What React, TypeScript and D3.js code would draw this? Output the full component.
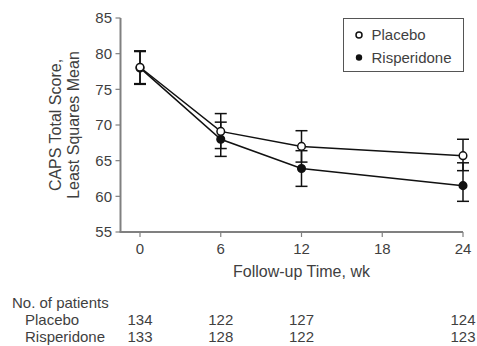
import React, { useEffect } from "react";
import * as d3 from "d3";

const weeks = [0, 6, 12, 24];
const xTicks = [0, 6, 12, 18, 24];
const yTicks = [55, 60, 65, 70, 75, 80, 85];

const placeboMean = [78.1, 69.1, 67.0, 65.7];
const placeboUpper = [80.4, 71.6, 69.2, 68.0];
const placeboLower = [75.8, 66.7, 64.8, 63.6];

const risperidoneMean = [78.0, 68.0, 63.9, 61.5];
const risperidoneUpper = [80.3, 70.4, 66.4, 64.7];
const risperidoneLower = [75.7, 65.6, 61.4, 59.3];

const placeboN = [134, 122, 127, 124];
const risperidoneN = [133, 128, 122, 123];

const seriesNames = ["Placebo", "Risperidone"];

const W = 477;
const H = 346;
const FONT = "'Liberation Sans', Arial, sans-serif";
const TXT = "#3f3f3f";
const AXIS = "#808080";

export default function App() {
  useEffect(() => {
    document.body.style.margin = "0";
  }, []);

  const x = d3.scaleLinear().domain([0, 24]).range([140, 463]);
  const y = d3.scaleLinear().domain([55, 85]).range([232, 18]);
  const axisX = 120.5;
  const axisY = 232;

  const line = d3
    .line<number>()
    .x((_, i) => x(weeks[i]))
    .y((d) => y(d));

  const series = [
    { name: seriesNames[0], mean: placeboMean, up: placeboUpper, lo: placeboLower, fill: "#fff" },
    { name: seriesNames[1], mean: risperidoneMean, up: risperidoneUpper, lo: risperidoneLower, fill: "#111" },
  ];
  const cap = 6;

  return (
    <svg width={W} height={H} style={{ display: "block", fontFamily: FONT }}>
      <rect width={W} height={H} fill="#fff" />
      {/* y axis */}
      <line x1={axisX} x2={axisX} y1={y(85)} y2={axisY} stroke={AXIS} strokeWidth={2} />
      {yTicks.map((t) => (
        <g key={t}>
          <line x1={axisX - 5} x2={axisX} y1={y(t)} y2={y(t)} stroke={AXIS} strokeWidth={1.2} />
          <text x={112} y={y(t)} dy="0.35em" textAnchor="end" fontSize={15} fill={TXT}>
            {t}
          </text>
        </g>
      ))}
      {/* x axis */}
      <line x1={axisX - 1} x2={x(24)} y1={axisY} y2={axisY} stroke={AXIS} strokeWidth={2} />
      {xTicks.map((t) => (
        <g key={t}>
          <line x1={x(t)} x2={x(t)} y1={axisY} y2={axisY + 5} stroke={AXIS} strokeWidth={1.2} />
          <text x={x(t)} y={254} textAnchor="middle" fontSize={15} fill={TXT}>
            {t}
          </text>
        </g>
      ))}
      <text x={(x(0) + x(24)) / 2} y={277} textAnchor="middle" fontSize={16} fill={TXT}>
        Follow-up Time, wk
      </text>
      <g transform={`translate(61,${(y(85) + axisY) / 2}) rotate(-90)`}>
        <text x={0} y={0} textAnchor="middle" fontSize={16} fill={TXT}>
          CAPS Total Score,
        </text>
        <text x={0} y={18} textAnchor="middle" fontSize={16} fill={TXT}>
          Least Squares Mean
        </text>
      </g>

      {/* error bars */}
      {series.map((s) => (
        <g key={s.name + "eb"}>
          {weeks.map((w, i) => (
            <g key={w} stroke="#111" strokeWidth={1.5}>
              <line x1={x(w)} x2={x(w)} y1={y(s.up[i])} y2={y(s.lo[i])} />
              <line x1={x(w) - cap} x2={x(w) + cap} y1={y(s.up[i])} y2={y(s.up[i])} />
              <line x1={x(w) - cap} x2={x(w) + cap} y1={y(s.lo[i])} y2={y(s.lo[i])} />
            </g>
          ))}
        </g>
      ))}
      {/* lines */}
      {series.map((s) => (
        <path key={s.name + "ln"} d={line(s.mean) || ""} fill="none" stroke="#111" strokeWidth={1.5} />
      ))}
      {/* points: risperidone first so placebo open circle sits on top at week 0 */}
      {[series[1], series[0]].map((s) => (
        <g key={s.name + "pt"}>
          {weeks.map((w, i) => (
            <circle key={w} cx={x(w)} cy={y(s.mean[i])} r={3.8} fill={s.fill} stroke="#111" strokeWidth={1.5} />
          ))}
        </g>
      ))}

      {/* legend */}
      <rect x={343.5} y={18.5} width={120} height={53} fill="#fff" stroke="#555" strokeWidth={1} />
      <circle cx={359} cy={35} r={3} fill="#fff" stroke="#111" strokeWidth={1.5} />
      <text x={371.5} y={40} fontSize={15} fill={TXT}>
        {seriesNames[0]}
      </text>
      <circle cx={359} cy={57.5} r={3.2} fill="#111" />
      <text x={371.5} y={62.5} fontSize={15} fill={TXT}>
        {seriesNames[1]}
      </text>

      {/* patient table */}
      <text x={12} y={308} fontSize={15} fill={TXT}>
        No. of patients
      </text>
      <text x={25} y={325} fontSize={15} fill={TXT}>
        {seriesNames[0]}
      </text>
      <text x={25} y={342} fontSize={15} fill={TXT}>
        {seriesNames[1]}
      </text>
      {weeks.map((w, i) => (
        <g key={"n" + w}>
          <text x={x(w)} y={325} textAnchor="middle" fontSize={15} fill={TXT}>
            {placeboN[i]}
          </text>
          <text x={x(w)} y={342} textAnchor="middle" fontSize={15} fill={TXT}>
            {risperidoneN[i]}
          </text>
        </g>
      ))}
    </svg>
  );
}
